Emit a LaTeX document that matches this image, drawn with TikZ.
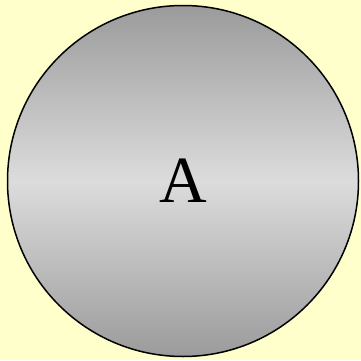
\documentclass[tikz,border=0pt]{standalone}
\usepackage{fontspec}
\setmainfont{Liberation Serif}
\definecolor{bgyellow}{HTML}{FFFFCC}
\definecolor{darkgray}{HTML}{9B9B9B}
\definecolor{lightgray}{HTML}{DCDCDC}
\tikzset{ball/.style={circle, draw=black, line width=1.5pt, top color=darkgray, bottom color=darkgray, middle color=lightgray, minimum size=351pt, inner sep=0pt, font=\fontsize{66}{70}\selectfont}}
\begin{document}
\begin{tikzpicture}[x=1pt,y=1pt]
\fill[bgyellow] (0,0) rectangle (361,360);
\useasboundingbox (0,0) rectangle (361,360);
\node[ball] (a) at (183,179) {A};
\end{tikzpicture}
\end{document}
